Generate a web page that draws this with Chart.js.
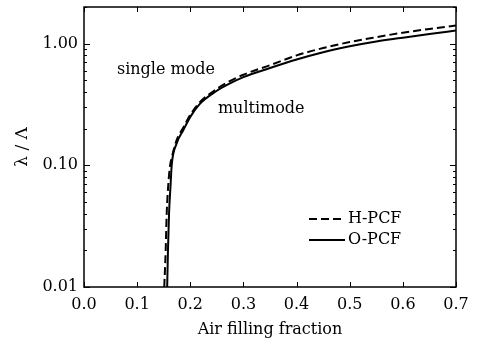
<!DOCTYPE html>
<html>
<head>
<meta charset="utf-8">
<script src="https://cdn.jsdelivr.net/npm/chart.js@4/dist/chart.umd.min.js"></script>
<style>
  html, body { margin: 0; padding: 0; background: #fff; }
  #wrap { width: 485px; height: 344px; }
</style>
</head>
<body>
<div id="wrap"><canvas id="c" width="485" height="344"></canvas></div>
<script>
// air filling fraction / normalized wavelength
const hFraction = [0.151, 0.1537, 0.1556, 0.1587, 0.162, 0.165, 0.174, 0.187, 0.20, 0.218, 0.25, 0.27, 0.30, 0.35, 0.40, 0.45, 0.50, 0.55, 0.60, 0.65, 0.70];
const hValues   = [0.01, 0.02, 0.04, 0.07, 0.10, 0.115, 0.16, 0.205, 0.26, 0.33, 0.425, 0.48, 0.555, 0.665, 0.80, 0.92, 1.03, 1.13, 1.23, 1.32, 1.41];

const oFraction = [0.1565, 0.158, 0.160, 0.163, 0.165, 0.174, 0.187, 0.20, 0.218, 0.25, 0.27, 0.30, 0.35, 0.40, 0.45, 0.50, 0.55, 0.60, 0.65, 0.70];
const oValues   = [0.01, 0.02, 0.04, 0.07, 0.10, 0.15, 0.195, 0.25, 0.32, 0.41, 0.46, 0.53, 0.63, 0.74, 0.85, 0.95, 1.04, 1.12, 1.20, 1.28];

const xTicks = [0, 0.1, 0.2, 0.3, 0.4, 0.5, 0.6, 0.7];
const yTicks = [0.01, 0.1, 1];
const seriesNames = ['H-PCF', 'O-PCF'];
const notes = [
    { text: 'single mode', x: 0.062, y: 0.61 },
    { text: 'multimode', x: 0.252, y: 0.293 }
];

const FONT = '"DejaVu Serif", serif';

const pairs = (xs, ys) => xs.map((v, i) => ({ x: v, y: ys[i] }));

const framePlugin = {
    id: 'frame',
    afterDraw(chart) {
        const { ctx, chartArea: { left, right, top, bottom }, scales: { x, y } } = chart;
        ctx.save();
        ctx.strokeStyle = '#000';
        ctx.lineWidth = 1.5;
        ctx.strokeRect(left, top, right - left, bottom - top);

        ctx.lineWidth = 1;
        ctx.beginPath();
        xTicks.forEach(v => {
            const px = Math.round(x.getPixelForValue(v)) + 0.5;
            ctx.moveTo(px, bottom); ctx.lineTo(px, bottom - 5);
            ctx.moveTo(px, top); ctx.lineTo(px, top + 5);
        });
        yTicks.forEach(d => {
            for (let k = 1; k <= 9; k++) {
                const v = d * k;
                if (v > y.max) break;
                const py = Math.round(y.getPixelForValue(v)) + 0.5;
                const len = k === 1 ? 6 : 3;
                ctx.moveTo(left, py); ctx.lineTo(left + len, py);
                ctx.moveTo(right, py); ctx.lineTo(right - len, py);
            }
        });
        ctx.stroke();

        // text notes
        ctx.fillStyle = '#000';
        ctx.font = '16px ' + FONT;
        ctx.textBaseline = 'middle';
        ctx.textAlign = 'left';
        notes.forEach(n => ctx.fillText(n.text, x.getPixelForValue(n.x), y.getPixelForValue(n.y)));

        // legend
        const lx = right - 147, ly = bottom - 68;
        chart.data.datasets.forEach((ds, i) => {
            const yy = ly + i * 21;
            ctx.beginPath();
            ctx.lineWidth = 2;
            ctx.setLineDash(ds.borderDash || []);
            ctx.moveTo(lx, yy); ctx.lineTo(lx + 36, yy);
            ctx.stroke();
            ctx.setLineDash([]);
            ctx.fillText(ds.label, lx + 39, yy);
        });
        ctx.restore();
    }
};

new Chart(document.getElementById('c'), {
    type: 'line',
    data: {
        datasets: [
            {
                label: seriesNames[0],
                data: pairs(hFraction, hValues),
                borderColor: '#000',
                borderWidth: 2,
                borderDash: [8, 4],
                pointRadius: 0,
                cubicInterpolationMode: 'monotone',
                fill: false
            },
            {
                label: seriesNames[1],
                data: pairs(oFraction, oValues),
                borderColor: '#000',
                borderWidth: 2,
                pointRadius: 0,
                cubicInterpolationMode: 'monotone',
                fill: false
            }
        ]
    },
    options: {
        responsive: false,
        animation: false,
        layout: { padding: { left: 0, right: 29, top: 7, bottom: 0 } },
        plugins: { legend: { display: false }, tooltip: { enabled: false } },
        scales: {
            x: {
                type: 'linear',
                min: 0,
                max: 0.7,
                grid: { display: false, drawTicks: false },
                border: { display: false },
                afterBuildTicks: s => { s.ticks = xTicks.map(v => ({ value: v })); },
                afterFit: s => { s.height = 57; s.paddingLeft = 0; s.paddingRight = 0; },
                ticks: {
                    color: '#000',
                    padding: 8,
                    font: { family: FONT, size: 16 },
                    callback: v => Number(v).toFixed(1)
                },
                title: {
                    display: true,
                    text: 'Air filling fraction',
                    color: '#000',
                    font: { family: FONT, size: 16 },
                    padding: { top: 0, bottom: 5 }
                }
            },
            y: {
                type: 'logarithmic',
                min: 0.01,
                max: 2,
                grid: { display: false, drawTicks: false },
                border: { display: false },
                afterBuildTicks: s => { s.ticks = yTicks.map(v => ({ value: v })); },
                afterFit: s => { s.width = 84; s.paddingTop = 0; s.paddingBottom = 0; },
                ticks: {
                    color: '#000',
                    padding: 6,
                    autoSkip: false,
                    font: { family: FONT, size: 16 },
                    callback: v => Number(v).toFixed(2)
                },
                title: {
                    display: true,
                    text: 'λ / Λ',
                    color: '#000',
                    font: { family: FONT, size: 17 },
                    padding: { top: 12, bottom: 0 }
                }
            }
        }
    },
    plugins: [framePlugin]
});
</script>
</body>
</html>
